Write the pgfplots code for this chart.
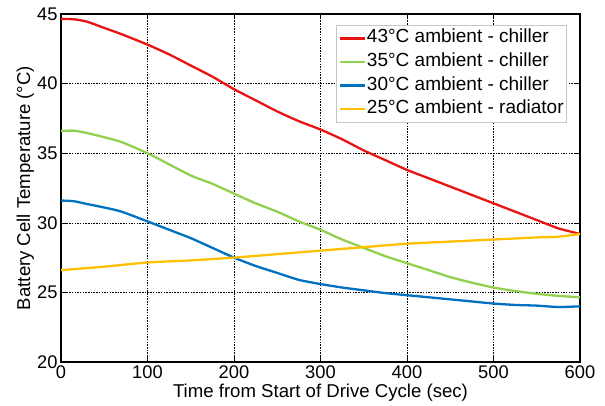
\documentclass[border=0pt]{standalone}
\usepackage{fontspec}
\setmainfont{Liberation Sans}
\usepackage{pgfplots}
\pgfplotsset{compat=1.18}
\definecolor{cred}{RGB}{232,20,20}
\definecolor{cgreen}{RGB}{146,208,80}
\definecolor{cblue}{RGB}{0,112,192}
\definecolor{cyellow}{RGB}{255,192,0}
\begin{document}
\begin{tikzpicture}
\begin{axis}[
  name=ax,
  scale only axis, width=519pt, height=348pt,
  xmin=0, xmax=600, ymin=20, ymax=45,
  xtick={0,100,...,600}, ytick={20,25,...,45},
  grid=major,
  major grid style={black, dash pattern=on 1.5pt off 1.2pt, line width=0.6pt},
  tick align=inside, tick style={black, line width=0.6pt}, major tick length=5pt,
  axis line style={line width=1.3pt},
  font=\fontsize{18.6}{20}\selectfont,
  ticklabel style={font=\fontsize{18.3}{20}\selectfont},
  /pgf/number format/assume math mode=true,
  xlabel={Time from Start of Drive Cycle (sec)},
  ylabel={Battery Cell Temperature (°C)},
  xlabel style={at={(axis description cs:0.5,-0.1006)}, anchor=base},
  ylabel style={at={(axis description cs:-0.0597,0.5)}, anchor=base},
  legend style={at={(0.975,0.968)}, anchor=north east, draw=gray!45, line width=0.8pt,
    font=\fontsize{19}{20}\selectfont, inner xsep=2pt, inner ysep=1pt, row sep=0pt,
    nodes={text height=13.5pt, text depth=4.5pt, inner ysep=2.8pt, inner xsep=1pt}},
  legend cell align=left,
  legend image code/.code={\draw[#1, line width=2.4pt] (0pt,0pt) -- (25pt,0pt);},
  every axis plot/.append style={line width=2.3pt, smooth, tension=0.4},
]
\addplot[cred] coordinates {(0,44.65) (15,44.62) (30,44.45) (50,44.0) (70,43.55) (100,42.8) (125,42.1) (150,41.3) (175,40.5) (200,39.6) (225,38.8) (250,38.0) (275,37.3) (300,36.7) (325,36.0) (350,35.2) (375,34.5) (400,33.8) (425,33.2) (450,32.6) (475,32.0) (500,31.4) (525,30.8) (550,30.2) (575,29.6) (600,29.2)};
\addlegendentry{43°C ambient - chiller}
\addplot[cgreen] coordinates {(0,36.6) (15,36.62) (30,36.45) (50,36.15) (70,35.8) (100,35.0) (125,34.2) (150,33.4) (175,32.8) (200,32.1) (225,31.4) (250,30.8) (275,30.1) (300,29.5) (325,28.8) (350,28.2) (375,27.6) (400,27.1) (425,26.6) (450,26.1) (475,25.7) (500,25.35) (525,25.1) (550,24.9) (575,24.75) (600,24.65)};
\addlegendentry{35°C ambient - chiller}
\addplot[cblue] coordinates {(0,31.6) (15,31.55) (30,31.35) (50,31.1) (70,30.8) (100,30.1) (125,29.5) (150,28.9) (175,28.2) (200,27.5) (225,26.9) (250,26.4) (275,25.9) (300,25.6) (325,25.35) (350,25.15) (375,24.95) (400,24.8) (425,24.65) (450,24.5) (475,24.35) (500,24.2) (525,24.1) (550,24.05) (575,23.95) (600,24.0)};
\addlegendentry{30°C ambient - chiller}
\addplot[cyellow] coordinates {(0,26.6) (50,26.85) (100,27.15) (150,27.3) (200,27.5) (250,27.75) (300,28.0) (350,28.25) (400,28.5) (450,28.65) (500,28.8) (550,28.95) (575,29.0) (600,29.2)};
\addlegendentry{25°C ambient - radiator}
\end{axis}
\pgfresetboundingbox
\path[use as bounding box] ([xshift=-61pt,yshift=-43pt]ax.south west) rectangle ([xshift=25pt,yshift=14pt]ax.north east);
\end{tikzpicture}
\end{document}
